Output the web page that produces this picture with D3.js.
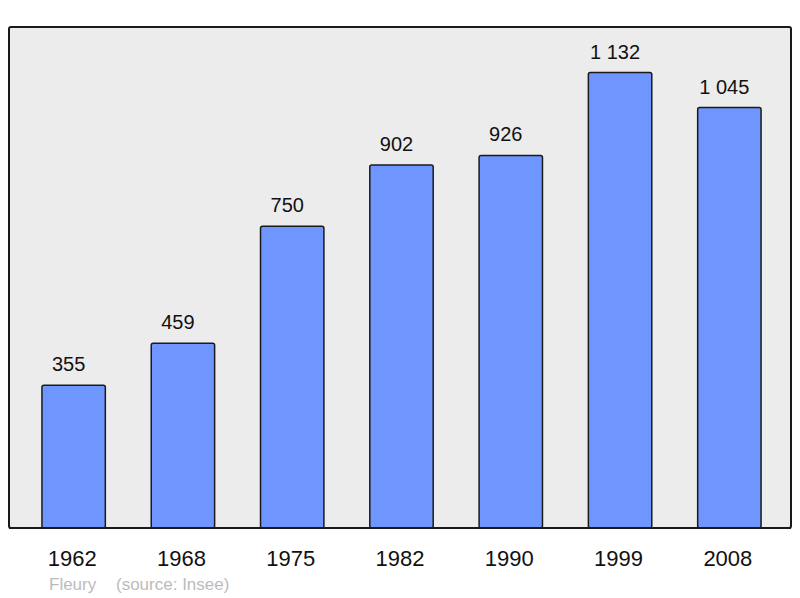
<!DOCTYPE html>
<html>
<head>
<meta charset="utf-8">
<script src="https://cdn.jsdelivr.net/npm/d3@7"></script>
<style>
  body { margin: 0; background: #fff; }
  text { font-family: "Liberation Sans", Arial, sans-serif; }
</style>
</head>
<body>
<div id="chart-area"></div>
<script>
let years = ["1962", "1968", "1975", "1982", "1990", "1999", "2008"];
let population = [355, 459, 750, 902, 926, 1132, 1045];
let commune = "Fleury";
let source = "(source: Insee)";

let width = 800, height = 598;
let panel = {left: 9, top: 27, right: 791, bottom: 528};

let svg = d3.select("#chart-area")
  .append("svg")
  .attr("width", width)
  .attr("height", height);

svg.append("rect")
  .attr("x", panel.left)
  .attr("y", panel.top)
  .attr("width", panel.right - panel.left)
  .attr("height", panel.bottom - panel.top)
  .attr("rx", 2)
  .attr("fill", "#ececec")
  .attr("stroke", "#1a1a1a")
  .attr("stroke-width", 2);

let x = d3.scaleBand()
  .domain(years)
  .range([19, 784])
  .paddingInner(0.42)
  .paddingOuter(0.21);

let y = d3.scaleLinear()
  .domain([0, d3.max(population) * 1.1])
  .range([panel.bottom, panel.top]);

let fmt = function(v) { return d3.format(",")(v).replace(",", " "); };

let data = years.map(function(yr, i) { return {year: yr, value: population[i]}; });

svg.selectAll(".bar")
  .data(data)
  .enter()
  .append("rect")
  .attr("class", "bar")
  .attr("x", function(d) { return x(d.year); })
  .attr("y", function(d) { return y(d.value); })
  .attr("width", x.bandwidth())
  .attr("height", function(d) { return panel.bottom - y(d.value); })
  .attr("rx", 2)
  .attr("fill", "#6f96ff")
  .attr("stroke", "#1a1a1a")
  .attr("stroke-width", 1.5);

// value labels sit a little left of the bar centre
svg.selectAll(".value")
  .data(data)
  .enter()
  .append("text")
  .attr("class", "value")
  .attr("x", function(d) { return x(d.year) + x.bandwidth() / 2 - 5; })
  .attr("y", function(d) { return y(d.value) - 14; })
  .attr("text-anchor", "middle")
  .attr("font-size", 20)
  .attr("fill", "#111")
  .text(function(d) { return fmt(d.value); });

// redraw bottom border over bars
svg.append("line")
  .attr("x1", panel.left)
  .attr("x2", panel.right)
  .attr("y1", panel.bottom)
  .attr("y2", panel.bottom)
  .attr("stroke", "#1a1a1a")
  .attr("stroke-width", 2);

let xAxis = d3.axisBottom(x).tickSize(0).tickPadding(0);
let xAxisGroup = svg.append("g")
  .attr("transform", "translate(-1.5," + panel.bottom + ")")
  .call(xAxis);
xAxisGroup.select(".domain").remove();
xAxisGroup.selectAll("text")
  .attr("dy", null)
  .attr("y", 38)
  .attr("font-size", 22)
  .attr("font-family", "Liberation Sans, Arial, sans-serif")
  .attr("fill", "#111");

svg.append("text")
  .attr("x", 49)
  .attr("y", 590)
  .attr("font-size", 17)
  .attr("fill", "#bbbbbb")
  .text(commune);

svg.append("text")
  .attr("x", 116)
  .attr("y", 590)
  .attr("font-size", 17)
  .attr("fill", "#bbbbbb")
  .text(source);
</script>
</body>
</html>
